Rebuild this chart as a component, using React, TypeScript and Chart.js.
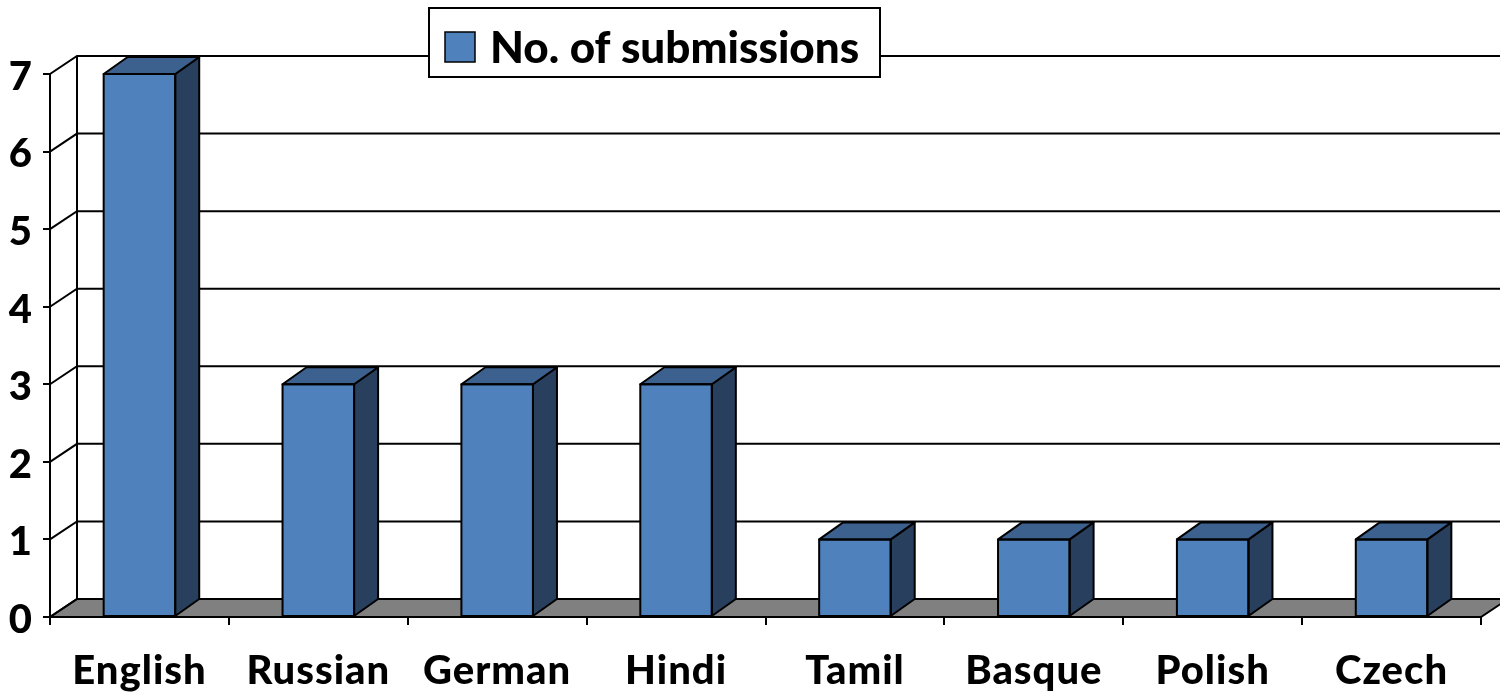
import React, { useEffect, useRef } from "react";
import { Chart, registerables } from "chart.js";
Chart.register(...registerables);

const categories = ["English", "Russian", "German", "Hindi", "Tamil", "Basque", "Polish", "Czech"];
const submissions = [7, 3, 3, 3, 1, 1, 1, 1];
const seriesLabel = "No. of submissions";
const yTicks = [0, 1, 2, 3, 4, 5, 6, 7];

const FONT = "Lato";
const WEIGHT = "900";
const FRONT = "#4F81BD";
const SIDE = "#283F5E";
const TOP = "#3C618F";
const FLOOR = "#808080";
const WALL_DX = 27;
const WALL_DY = 18;
const BAR_DX = 24;
const BAR_DY = 17;

const threeD = {
  id: "threeD",
  beforeDraw(chart: any) {
    (chart.ctx as any).letterSpacing = "1px";
  },
  beforeDatasetsDraw(chart: any) {
    const ctx = chart.ctx;
    const ys = chart.scales.y;
    const xs = chart.scales.x;
    const left = xs.left;
    const right = xs.right;
    const y0 = ys.getPixelForValue(0);
    const yMax = ys.getPixelForValue(yTicks[yTicks.length - 1]);
    ctx.save();
    ctx.strokeStyle = "#000";
    ctx.lineWidth = 2;
    ctx.beginPath();
    ctx.moveTo(left, y0);
    ctx.lineTo(right, y0);
    ctx.lineTo(right + WALL_DX, y0 - WALL_DY);
    ctx.lineTo(left + WALL_DX, y0 - WALL_DY);
    ctx.closePath();
    ctx.fillStyle = FLOOR;
    ctx.fill();
    ctx.stroke();
    for (const v of yTicks) {
      const py = ys.getPixelForValue(v);
      ctx.beginPath();
      ctx.moveTo(left, py);
      ctx.lineTo(left + WALL_DX, py - WALL_DY);
      ctx.lineTo(chart.width + 60, py - WALL_DY);
      ctx.stroke();
    }
    ctx.beginPath();
    ctx.moveTo(left + WALL_DX, yMax - WALL_DY);
    ctx.lineTo(left + WALL_DX, y0 - WALL_DY);
    ctx.stroke();
    ctx.beginPath();
    ctx.moveTo(left, y0);
    ctx.lineTo(right, y0);
    ctx.stroke();
    ctx.restore();
  },
  afterDatasetsDraw(chart: any) {
    const ctx = chart.ctx;
    const meta = chart.getDatasetMeta(0);
    ctx.save();
    ctx.strokeStyle = "#000";
    ctx.lineWidth = 2;
    ctx.lineJoin = "round";
    meta.data.forEach((bar: any) => {
      const { x, y, base, width } = bar.getProps(["x", "y", "base", "width"], true);
      const xl = x - width / 2;
      const xr = x + width / 2;
      ctx.beginPath();
      ctx.moveTo(xr, y);
      ctx.lineTo(xr + BAR_DX, y - BAR_DY);
      ctx.lineTo(xr + BAR_DX, base - BAR_DY);
      ctx.lineTo(xr, base);
      ctx.closePath();
      ctx.fillStyle = SIDE;
      ctx.fill();
      ctx.stroke();
      ctx.beginPath();
      ctx.moveTo(xl, y);
      ctx.lineTo(xl + BAR_DX, y - BAR_DY);
      ctx.lineTo(xr + BAR_DX, y - BAR_DY);
      ctx.lineTo(xr, y);
      ctx.closePath();
      ctx.fillStyle = TOP;
      ctx.fill();
      ctx.stroke();
      ctx.strokeRect(xl, y, width, base - y);
    });
    ctx.restore();
  },
  afterDraw(chart: any) {
    const ctx = chart.ctx;
    ctx.save();
    (ctx as any).letterSpacing = "0px";
    ctx.fillStyle = "#fff";
    ctx.fillRect(429, 8, 451, 69);
    ctx.strokeStyle = "#000";
    ctx.lineWidth = 2;
    ctx.strokeRect(429, 8, 451, 69);
    ctx.fillStyle = FRONT;
    ctx.fillRect(445, 32, 30, 30);
    ctx.lineWidth = 1.5;
    ctx.strokeRect(445, 32, 30, 30);
    ctx.fillStyle = "#000";
    ctx.font = `${WEIGHT} 44px ${FONT}`;
    ctx.textBaseline = "alphabetic";
    ctx.textAlign = "left";
    ctx.fillText(chart.data.datasets[0].label, 490, 63);
    ctx.restore();
    (ctx as any).letterSpacing = "0px";
  },
};

export default function App() {
  const ref = useRef<HTMLCanvasElement>(null);
  useEffect(() => {
    const chart = new Chart(ref.current as HTMLCanvasElement, {
      type: "bar",
      data: {
        labels: categories,
        datasets: [
          {
            label: seriesLabel,
            data: submissions,
            backgroundColor: FRONT,
            borderWidth: 0,
            categoryPercentage: 1,
            barPercentage: 0.4,
          },
        ],
      },
      options: {
        animation: false,
        responsive: false,
        devicePixelRatio: 1,
        layout: { padding: { top: 74, right: 19, left: 0, bottom: 0 } },
        plugins: { legend: { display: false }, tooltip: { enabled: false } },
        scales: {
          x: {
            afterFit: (s: any) => {
              s.height = 77;
            },
            grid: {
              drawOnChartArea: false,
              drawTicks: true,
              tickLength: 8,
              color: "#000",
              lineWidth: 2,
              offset: true,
            },
            border: { display: true, color: "#000", width: 2 },
            ticks: {
              color: "#000",
              font: { family: FONT, size: 40, weight: WEIGHT, lineHeight: 1.2 },
              padding: 22,
              maxRotation: 0,
              autoSkip: false,
            },
          },
          y: {
            min: 0,
            max: 7,
            afterFit: (s: any) => {
              s.width = 50;
            },
            grid: {
              drawOnChartArea: false,
              drawTicks: true,
              tickLength: 7,
              color: "#000",
              lineWidth: 2,
            },
            border: { display: true, color: "#000", width: 2 },
            ticks: {
              stepSize: 1,
              color: "#000",
              font: { family: FONT, size: 40, weight: WEIGHT },
              padding: 10,
              labelOffset: 3,
            },
          },
        },
      },
      plugins: [threeD],
    } as any);
    return () => chart.destroy();
  }, []);
  return (
    <div style={{ position: "fixed", left: 0, top: 0, width: 1500, height: 694, background: "#fff" }}>
      <canvas ref={ref} width={1500} height={694} style={{ display: "block" }} />
    </div>
  );
}
